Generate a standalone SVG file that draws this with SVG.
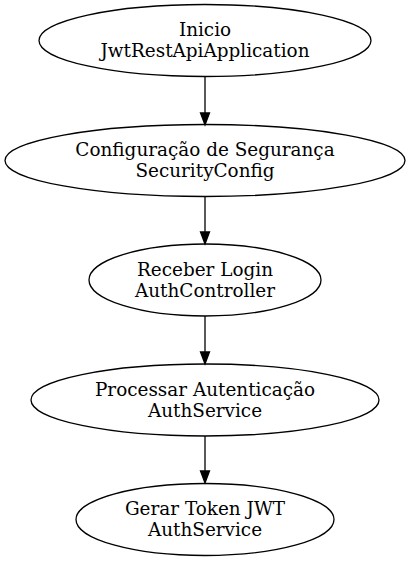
<svg xmlns="http://www.w3.org/2000/svg" width="410" height="561" viewBox="0 0 410 561">
<defs>
<style>
.n ellipse{fill:none;stroke:#000;stroke-width:1.3}
.n text{font-family:"DejaVu Serif",serif;font-size:18.4px;text-anchor:middle;fill:#000}
.e line{stroke:#000;stroke-width:1.3}
.e polygon{fill:#000;stroke:#000;stroke-width:1.3}
</style>
</defs>
<rect width="410" height="561" fill="#fff"/>
<g id="connectors" class="e">
<line x1="205" y1="77" x2="205" y2="113"/>
<polygon points="200.5,113 209.5,113 205,125"/>
<line x1="205" y1="197" x2="205" y2="232"/>
<polygon points="200.5,232 209.5,232 205,244"/>
<line x1="205" y1="316" x2="205" y2="352"/>
<polygon points="200.5,352 209.5,352 205,364"/>
<line x1="205" y1="436" x2="205" y2="471"/>
<polygon points="200.5,471 209.5,471 205,483"/>
</g>
<g id="inicio" class="n">
<ellipse cx="205" cy="40.5" rx="166" ry="36"/>
<text x="205" y="36">Inicio</text>
<text x="205" y="57">JwtRestApiApplication</text>
</g>
<g id="security" class="n">
<ellipse cx="205" cy="160.5" rx="200" ry="36"/>
<text x="205" y="156">Configuração de Segurança</text>
<text x="205" y="177">SecurityConfig</text>
</g>
<g id="login" class="n">
<ellipse cx="205" cy="280" rx="116" ry="36"/>
<text x="205" y="275.5">Receber Login</text>
<text x="205" y="296.5">AuthController</text>
</g>
<g id="autenticacao" class="n">
<ellipse cx="205" cy="400" rx="174" ry="36"/>
<text x="205" y="395.5">Processar Autenticação</text>
<text x="205" y="416.5">AuthService</text>
</g>
<g id="token" class="n">
<ellipse cx="205" cy="519.5" rx="129" ry="36"/>
<text x="205" y="515">Gerar Token JWT</text>
<text x="205" y="536">AuthService</text>
</g>
</svg>
